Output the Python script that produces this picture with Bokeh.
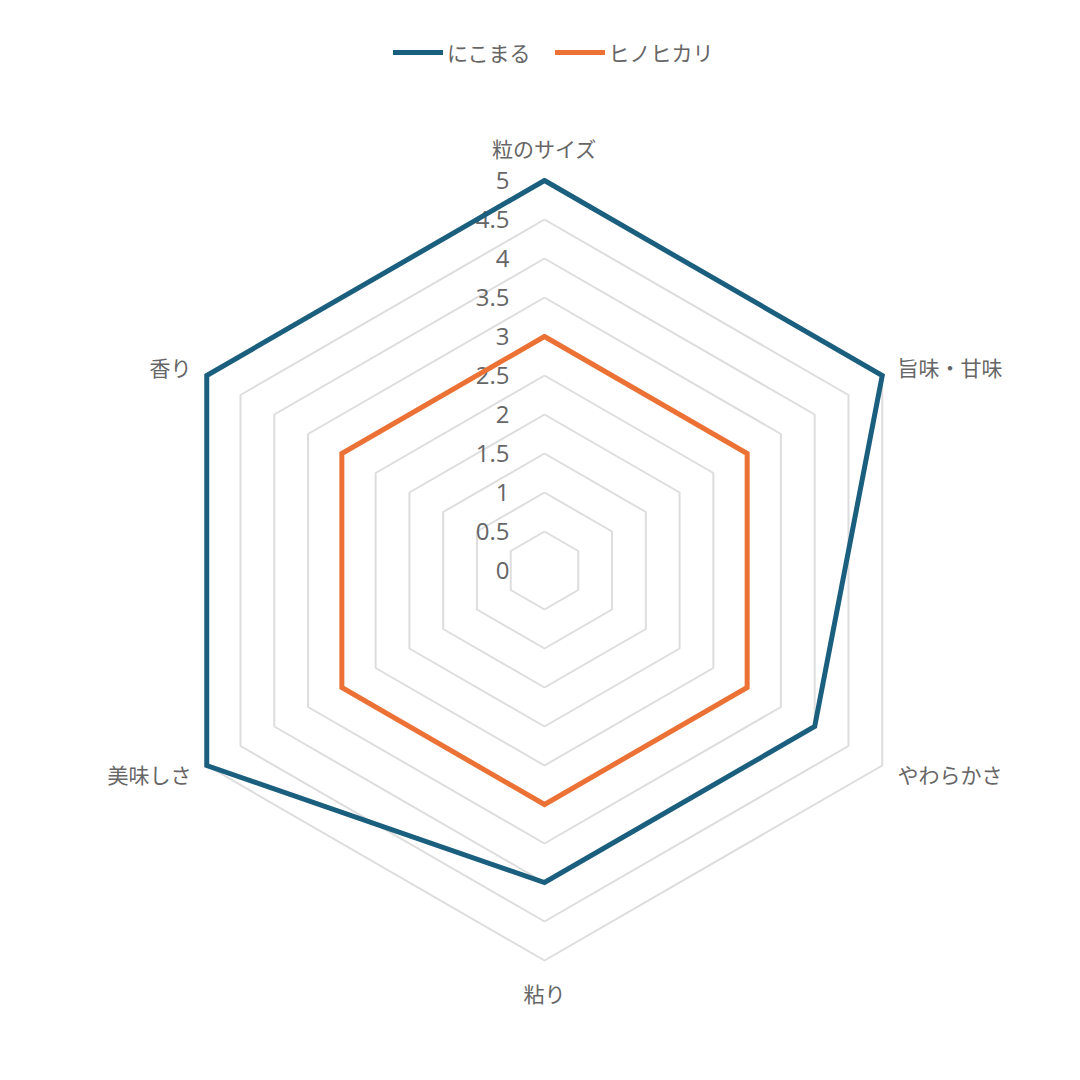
import math
from bokeh.plotting import figure
from bokeh.models import Range1d, Legend, LegendItem
from bokeh.core.properties import value
from bokeh.embed import file_html
from bokeh.resources import INLINE

categories = ["粒のサイズ", "旨味・甘味", "やわらかさ", "粘り", "美味しさ", "香り"]
nikomaru = [5, 5, 4, 4, 5, 5]
hinohikari = [3, 3, 3, 3, 3, 3]
series_names = ["にこまる", "ヒノヒカリ"]
series_colors = ["#1b5f7e", "#eb7135"]
tick_values = [0, 0.5, 1, 1.5, 2, 2.5, 3, 3.5, 4, 4.5, 5]
tick_labels = ["0", "0.5", "1", "1.5", "2", "2.5", "3", "3.5", "4", "4.5", "5"]
grid_levels = [0.5, 1, 1.5, 2, 2.5, 3, 3.5, 4, 4.5, 5]

FONT = "Noto Sans CJK JP"
TICK_FONT = "Open Sans"
TXT = "#666666"
W = H = 1064
PX = 78.0           # pixels per value unit
CX, CY = 544, 570   # centre in figure pixels (from top-left)

p = figure(width=W, height=H, output_backend="svg", toolbar_location=None,
           x_range=Range1d(-CX / PX, (W - CX) / PX),
           y_range=Range1d(-(H - CY) / PX, CY / PX),
           min_border=0)
p.axis.visible = False
p.grid.visible = False
p.outline_line_color = None

n = len(categories)
angles = [math.radians(90 - 360.0 * i / n) for i in range(n)]

def poly(vals):
    xs = [v * math.cos(a) for v, a in zip(vals, angles)]
    ys = [v * math.sin(a) for v, a in zip(vals, angles)]
    return xs + xs[:1], ys + ys[:1]

# grid rings
for g in grid_levels:
    xs, ys = poly([g] * n)
    p.line(xs, ys, line_color="#dddddd", line_width=2)

# tick labels
p.text(x=[-35 / PX] * len(tick_values), y=tick_values, text=tick_labels,
       text_font=value(TICK_FONT), text_font_size="24px", text_color=TXT,
       text_align="right", text_baseline="middle")

# series
renderers = []
for vals, name, col in zip([nikomaru, hinohikari], series_names, series_colors):
    xs, ys = poly(vals)
    r = p.line(xs, ys, line_color=col, line_width=5, line_join="miter", line_cap="round")
    renderers.append(r)

# category labels
R = max(grid_levels) + 17.6 / PX
for cat, a in zip(categories, angles):
    c, s = math.cos(a), math.sin(a)
    x, y = R * c, R * s
    if abs(c) < 1e-6:
        align = "center"
        base = "bottom" if s > 0 else "top"
    else:
        align = "left" if c > 0 else "right"
        base = "middle"
    p.text(x=[x], y=[y], text=[cat], text_font=value(FONT), text_font_size="21px",
           text_color=TXT, text_align=align, text_baseline=base)

legend = Legend(items=[LegendItem(label=nm, renderers=[r]) for nm, r in zip(series_names, renderers)],
                orientation="horizontal", location=(393, 997),
                label_text_font=FONT, label_text_font_size="21px", label_text_color=TXT,
                glyph_width=50, glyph_height=20, label_standoff=4, spacing=24,
                padding=0, margin=0, border_line_color=None, background_fill_alpha=0)
p.add_layout(legend)

open("out.html", "w").write(file_html(p, INLINE))
